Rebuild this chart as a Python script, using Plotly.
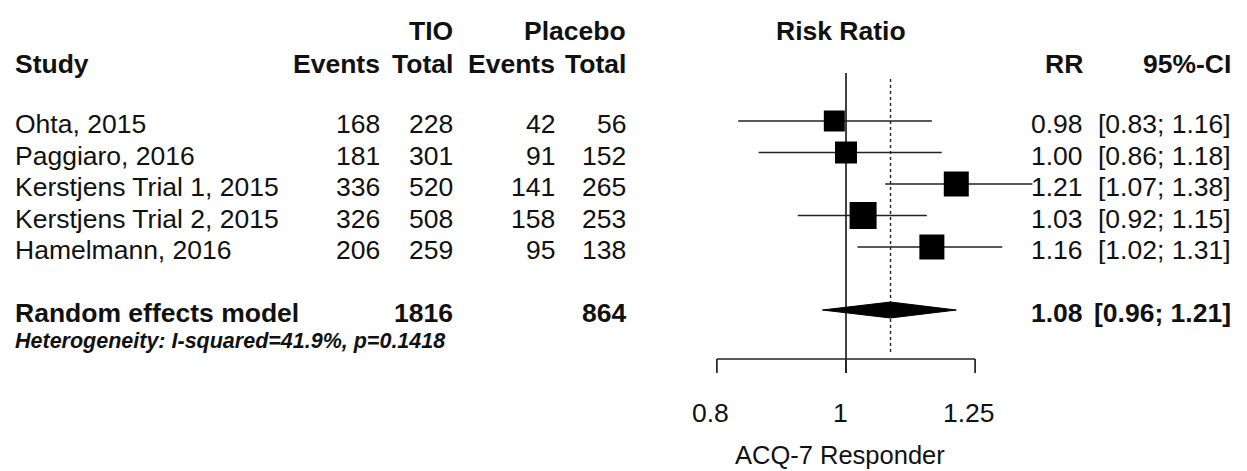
import numpy as np
import plotly.graph_objects as go

# ---------------- data ----------------
studies = ["Ohta, 2015", "Paggiaro, 2016", "Kerstjens Trial 1, 2015",
           "Kerstjens Trial 2, 2015", "Hamelmann, 2016"]
tio_events = [168, 181, 336, 326, 206]
tio_total = [228, 301, 520, 508, 259]
pla_events = [42, 91, 141, 158, 95]
pla_total = [56, 152, 265, 253, 138]
rr = [0.98, 1.00, 1.21, 1.03, 1.16]
ci_low = [0.83, 0.86, 1.07, 0.92, 1.02]
ci_high = [1.16, 1.18, 1.38, 1.15, 1.31]
pooled_label = "Random effects model"
pooled_tio_total = 1816
pooled_pla_total = 864
pooled_rr = 1.08
pooled_low = 0.96
pooled_high = 1.21
heterogeneity = "Heterogeneity: I-squared=41.9%, p=0.1418"
x_ticks = [0.8, 1, 1.25]
x_tick_labels = ["0.8", "1", "1.25"]
x_title = "ACQ-7 Responder"

# ---------------- layout geometry (pixels) ----------------
W, H = 1247, 471
X_ONE = 846.0          # pixel of RR = 1
PX_PER_LN = 578.6      # pixels per natural-log unit
Y0 = 121.0             # pixel of first study row
ROW = 31.5             # pixels per row

lx0 = np.log10(np.exp((0 - X_ONE) / PX_PER_LN))
lx1 = np.log10(np.exp((W - X_ONE) / PX_PER_LN))
y_top = (0 - Y0) / ROW
y_bot = (H - Y0) / ROW


def r_of(p):
    return (p - Y0) / ROW


def xp(px):
    return px / W


def yp(py):
    return 1 - py / H


FONT = "Liberation Sans, Arial, Helvetica, sans-serif"
FS = 26.5
INK = "#111111"
sq_sizes = [21, 22, 25, 27, 25]

fig = go.Figure()
rows = list(range(len(studies)))
pooled_row = len(studies) + 1

# CI lines
for i in rows:
    fig.add_trace(go.Scatter(x=[ci_low[i], ci_high[i]], y=[i, i], mode="lines",
                             line=dict(color="#222222", width=1.7),
                             hoverinfo="skip", showlegend=False))

# reference line at 1
fig.add_trace(go.Scatter(x=[1, 1], y=[r_of(73), r_of(373)], mode="lines",
                         line=dict(color="#222222", width=1.7),
                         hoverinfo="skip", showlegend=False))
# dotted pooled line
fig.add_trace(go.Scatter(x=[pooled_rr, pooled_rr], y=[r_of(79), r_of(352)], mode="lines",
                         line=dict(color="#222222", width=1.4, dash="dot"),
                         hoverinfo="skip", showlegend=False))

# squares
fig.add_trace(go.Scatter(x=rr, y=rows, mode="markers",
                         marker=dict(symbol="square", size=sq_sizes, color="black",
                                     opacity=1, line=dict(width=0)),
                         hoverinfo="skip", showlegend=False))

# diamond
dh = 8 / ROW
fig.add_trace(go.Scatter(x=[pooled_low, pooled_rr, pooled_high, pooled_rr, pooled_low],
                         y=[pooled_row, pooled_row - dh, pooled_row, pooled_row + dh, pooled_row],
                         mode="lines", fill="toself", fillcolor="black",
                         line=dict(color="black", width=1),
                         hoverinfo="skip", showlegend=False))

# axis line and ticks
ya, yt = r_of(359), r_of(373)
fig.add_trace(go.Scatter(x=[x_ticks[0], x_ticks[-1]], y=[ya, ya], mode="lines",
                         line=dict(color="#222222", width=1.7),
                         hoverinfo="skip", showlegend=False))
for t in x_ticks:
    fig.add_trace(go.Scatter(x=[t, t], y=[ya, yt], mode="lines",
                             line=dict(color="#222222", width=1.7),
                             hoverinfo="skip", showlegend=False))

ann = []


def text(s, px, py, anchor="left", size=FS):
    ann.append(dict(text=s, x=xp(px), y=yp(py), xref="paper", yref="paper",
                    xanchor=anchor, yanchor="middle", showarrow=False,
                    font=dict(family=FONT, size=size, color=INK)))


# headers
text("<b>TIO</b>", 455, 31, "right")
text("<b>Placebo</b>", 628, 31, "right")
text("<b>Risk Ratio</b>", 841, 31, "center")
text("<b>Study</b>", 13, 64, "left")
text("<b>Events</b>", 382, 64, "right")
text("<b>Total</b>", 455, 64, "right")
text("<b>Events</b>", 557, 64, "right")
text("<b>Total</b>", 628, 64, "right")
text("<b>RR</b>", 1085, 64, "right")
text("<b>95%-CI</b>", 1233, 64, "right")

for i in rows:
    py = Y0 + ROW * i + 3
    text(studies[i], 13, py, "left")
    text(str(tio_events[i]), 382, py, "right")
    text(str(tio_total[i]), 455, py, "right")
    text(str(pla_events[i]), 557, py, "right")
    text(str(pla_total[i]), 628, py, "right")
    text(f"{rr[i]:.2f}", 1085, py, "right")
    text(f"[{ci_low[i]:.2f}; {ci_high[i]:.2f}]", 1233, py, "right")

pp = Y0 + ROW * pooled_row + 3
text(f"<b>{pooled_label}</b>", 13, pp, "left")
text(f"<b>{pooled_tio_total}</b>", 455, pp, "right")
text(f"<b>{pooled_pla_total}</b>", 628, pp, "right")
text(f"<b>{pooled_rr:.2f}</b>", 1085, pp, "right")
text(f"<b>[{pooled_low:.2f}; {pooled_high:.2f}]</b>", 1233, pp, "right")
text(f"<b><i>{heterogeneity}</i></b>", 13, 341, "left", size=21.5)

# tick labels (in data coordinates of the log axis)
for t, lab in zip(x_ticks, x_tick_labels):
    ann.append(dict(text=lab, x=np.log10(t), y=r_of(413), xref="x", yref="y",
                    xanchor="center", yanchor="middle", showarrow=False, xshift=-6,
                    font=dict(family=FONT, size=FS, color=INK)))
text(x_title, 840, 455, "center", size=25.5)

fig.update_layout(
    width=W, height=H, margin=dict(l=0, r=0, t=0, b=0),
    paper_bgcolor="white", plot_bgcolor="white",
    xaxis=dict(type="log", range=[lx0, lx1], visible=False, fixedrange=True),
    yaxis=dict(range=[y_bot, y_top], visible=False, fixedrange=True),
    annotations=ann, showlegend=False,
)

fig.write_html("out.html", config={"displayModeBar": False},
               post_script="document.body.style.margin='0';")
